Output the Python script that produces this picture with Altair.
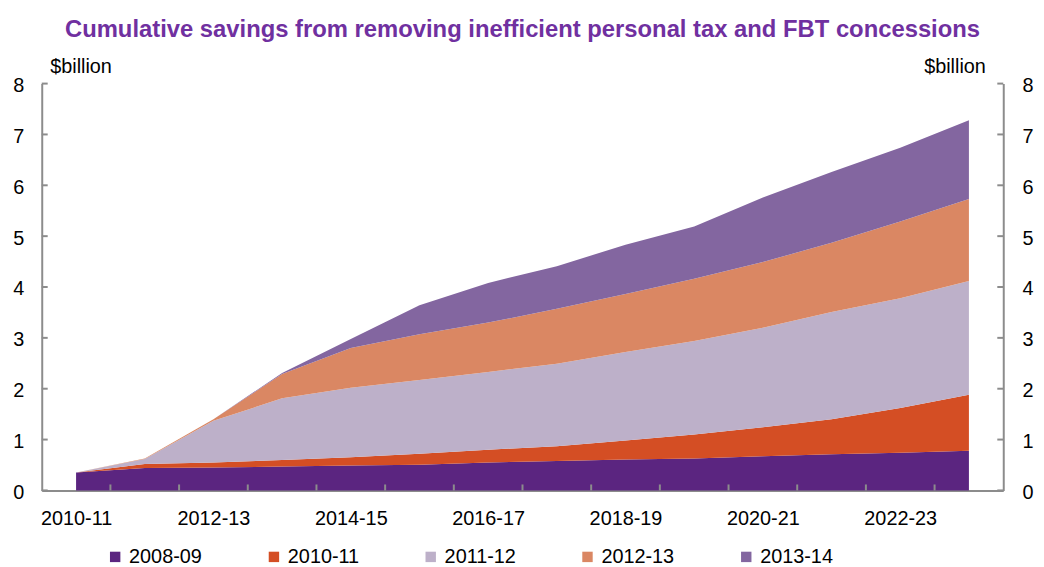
import altair as alt
import pandas as pd

years = ["2010-11", "2011-12", "2012-13", "2013-14", "2014-15", "2015-16", "2016-17",
         "2017-18", "2018-19", "2019-20", "2020-21", "2021-22", "2022-23", "2023-24"]
series = ["2008-09", "2010-11", "2011-12", "2012-13", "2013-14"]
colors = ["#5B2580", "#D44E24", "#BDB0C9", "#DA8763", "#8366A0"]

s_0809 = [0.35, 0.44, 0.45, 0.47, 0.49, 0.505, 0.55, 0.58, 0.61, 0.63, 0.67, 0.71, 0.74, 0.78]
s_1011 = [0.0, 0.08, 0.10, 0.13, 0.16, 0.215, 0.25, 0.29, 0.37, 0.47, 0.57, 0.69, 0.88, 1.10]
s_1112 = [0.0, 0.10, 0.82, 1.21, 1.37, 1.45, 1.53, 1.62, 1.74, 1.84, 1.96, 2.11, 2.16, 2.24]
s_1213 = [0.0, 0.01, 0.03, 0.48, 0.78, 0.90, 0.97, 1.08, 1.14, 1.22, 1.29, 1.36, 1.51, 1.61]
s_1314 = [0.0, 0.0, 0.0, 0.02, 0.18, 0.57, 0.78, 0.84, 0.97, 1.03, 1.27, 1.39, 1.45, 1.55]

y_ticks = [0, 1, 2, 3, 4, 5, 6, 7, 8]

rows = []
for si, (name, vals) in enumerate(zip(series, [s_0809, s_1011, s_1112, s_1213, s_1314])):
    for xi, (yr, v) in enumerate(zip(years, vals)):
        rows.append({"idx": xi, "year": yr, "series": name, "ord": si, "value": v})
df = pd.DataFrame(rows)

bounds_df = pd.DataFrame({"b": [i + 0.5 for i in range(len(years) - 1)]})
yt_df = pd.DataFrame({"v": y_ticks})

W, H = 969, 410
FONT = "Liberation Sans"
AX = "#8c8c8c"

label_expr = "[" + ",".join(f"'{y}'" for y in years) + "][datum.value]"

def x_enc(field):
    return alt.X(field, scale=alt.Scale(domain=[-0.5, len(years) - 0.5], nice=False, zero=False),
                 axis=alt.Axis(values=list(range(0, len(years), 2)), labelExpr=label_expr,
                               ticks=False, tickSize=0, domainColor=AX, domainWidth=2,
                               labelFontSize=20, labelPadding=18, grid=False, title=None,
                               labelColor="black", labelFont=FONT))

yscale = alt.Scale(domain=[0, 8], nice=False, zero=True)

area = alt.Chart(df).mark_area(interpolate="linear", opacity=1).encode(
    x=x_enc("idx:Q"),
    y=alt.Y("value:Q", stack="zero", scale=yscale,
            axis=alt.Axis(orient="left", values=y_ticks, ticks=False, tickSize=0,
                          domainColor=AX, domainWidth=2, labelFontSize=20, labelPadding=18,
                          labelOffset=2,
                          labelColor="black", labelFont=FONT, grid=False,
                          title="$billion", titleAngle=0, titleX=8, titleY=-11,
                          titleAlign="left", titleBaseline="alphabetic",
                          titleFontWeight="normal", titleFontSize=20, titleFont=FONT,
                          titleColor="black")),
    color=alt.Color("series:N", scale=alt.Scale(domain=series, range=colors),
                    legend=alt.Legend(orient="none", legendX=64, legendY=467,
                                      direction="horizontal", title=None,
                                      symbolType="square", symbolSize=110,
                                      symbolStrokeWidth=0, labelFontSize=20,
                                      labelFont=FONT, labelColor="black",
                                      labelOffset=4, columnPadding=62)),
    order=alt.Order("ord:Q", sort="ascending"),
)

x_ticks = alt.Chart(bounds_df).mark_rule(color=AX, strokeWidth=2).encode(
    x=x_enc("b:Q"),
    y=alt.value(H),
    y2=alt.value(H - 6),
)

left_ticks = alt.Chart(yt_df).mark_rule(color=AX, strokeWidth=2).encode(
    y=alt.Y("v:Q", scale=yscale, axis=None),
    x=alt.value(0),
    x2=alt.value(6),
)

right_ticks = alt.Chart(yt_df).mark_rule(color=AX, strokeWidth=2).encode(
    y=alt.Y("v:Q", scale=yscale,
            axis=alt.Axis(orient="right", values=y_ticks, ticks=False, tickSize=0,
                          domainColor=AX, domainWidth=2, labelFontSize=20, labelPadding=19,
                          labelOffset=2,
                          labelColor="black", labelFont=FONT, grid=False,
                          title="$billion", titleAngle=0, titleX=-18, titleY=-11,
                          titleAlign="right", titleBaseline="alphabetic",
                          titleFontWeight="normal", titleFontSize=20, titleFont=FONT,
                          titleColor="black")),
    x=alt.value(W - 6),
    x2=alt.value(W),
)

chart = alt.layer(area, x_ticks, left_ticks, right_ticks).resolve_axis(
    y="independent"
).properties(
    width=W, height=H,
    title=alt.TitleParams(
        "Cumulative savings from removing inefficient personal tax and FBT concessions",
        font=FONT, fontSize=24, fontWeight="bold", color="#7030A0",
        anchor="middle", frame="group", baseline="alphabetic", offset=-4),
    autosize="none",
    padding={"left": 34, "top": 74, "right": 33, "bottom": 75},
).configure_view(stroke=None)

chart.save("out.html", embed_options={"renderer": "svg", "actions": False})
